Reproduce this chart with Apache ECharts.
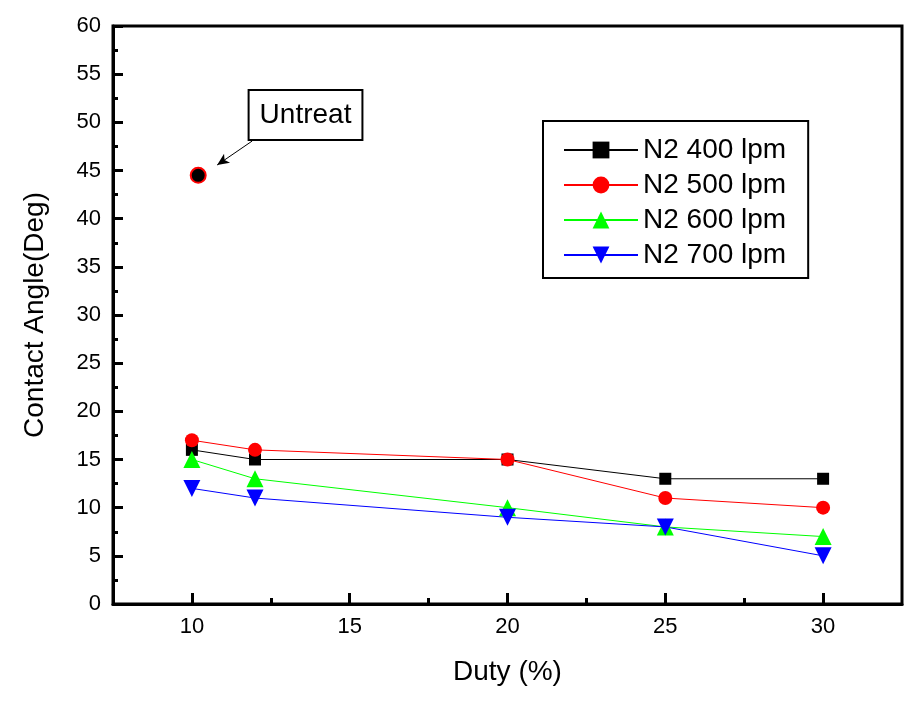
<!DOCTYPE html>
<html>
<head>
<meta charset="utf-8">
<script src="https://cdn.jsdelivr.net/npm/echarts@6/dist/echarts.min.js"></script>
<style>html,body{margin:0;padding:0;background:#fff;}#c{width:924px;height:704px;}</style>
</head>
<body>
<div id="c"></div>
<script>
var duty = [10, 12, 20, 25, 30];
var n2_400 = [16, 15, 15, 13, 13];
var n2_500 = [17, 16, 15, 11, 10];
var n2_600 = [15, 13, 10, 8, 7];
var n2_700 = [12, 11, 9, 8, 5];
var untreatX = [10.2];
var untreatY = [44.5];
var xMajorTicks = [10, 15, 20, 25, 30];
var xMinorTicks = [12.5, 17.5, 22.5, 27.5];
var seriesNames = ['N2 400 lpm', 'N2 500 lpm', 'N2 600 lpm', 'N2 700 lpm'];

function pairs(xs, ys) { return xs.map(function (x, i) { return [x, ys[i]]; }); }

var FONT = 'Liberation Sans, Arial, sans-serif';
var downTri = 'path://M0,0 L10,0 L5,9 Z';

function lineSeries(name, ys, color, symbol, size) {
  return {
    name: name, type: 'line', xAxisIndex: 0, yAxisIndex: 0,
    data: pairs(duty, ys),
    symbol: symbol, symbolSize: size,
    itemStyle: { color: color, opacity: 1 },
    lineStyle: { color: color, width: 1 },
    emphasis: { disabled: true },
    animation: false, z: 3
  };
}

var chart = echarts.init(document.getElementById('c'), null, { renderer: 'canvas' });
chart.setOption({
  backgroundColor: '#fff',
  animation: false,
  textStyle: { fontFamily: FONT },
  grid: { left: 113, right: 22, top: 26, bottom: 100, show: true, borderColor: '#000', borderWidth: 3, backgroundColor: 'transparent' },
  legend: {
    orient: 'vertical', left: 543, top: 121,
    data: seriesNames,
    itemWidth: 74, itemHeight: 21, itemGap: 5,
    padding: [14, 22, 8, 20],
    borderColor: '#000', borderWidth: 2,
    textStyle: { fontSize: 28, color: '#000', fontFamily: FONT, lineHeight: 30 }
  },
  xAxis: [{
    type: 'value', min: 7.5, max: 32.5,
    name: 'Duty (%)', nameLocation: 'middle', nameGap: 54,
    nameTextStyle: { fontSize: 28, color: '#000', fontFamily: FONT },
    axisLine: { show: true, onZero: false, lineStyle: { color: '#000', width: 3 } },
    axisTick: { show: true, inside: true, length: 11, lineStyle: { color: '#000', width: 3 }, customValues: xMajorTicks },
    axisLabel: { fontSize: 22, color: '#000', margin: 12, fontFamily: FONT, customValues: xMajorTicks },
    splitLine: { show: false }
  }, {
    type: 'value', min: 7.5, max: 32.5, position: 'bottom',
    axisLine: { show: false },
    axisTick: { show: true, inside: true, length: 6, lineStyle: { color: '#000', width: 3 }, customValues: xMinorTicks },
    axisLabel: { show: false },
    splitLine: { show: false }
  }],
  yAxis: {
    type: 'value', min: 0, max: 60, interval: 5,
    name: 'Contact Angle(Deg)', nameLocation: 'middle', nameGap: 64,
    nameTextStyle: { fontSize: 28, color: '#000', fontFamily: FONT },
    axisLine: { show: true, onZero: false, lineStyle: { color: '#000', width: 3 } },
    axisTick: { show: true, inside: true, length: 10, lineStyle: { color: '#000', width: 3 } },
    minorTick: { show: true, splitNumber: 2, length: 5, lineStyle: { color: '#000', width: 3 } },
    axisLabel: { fontSize: 22, color: '#000', margin: 12, fontFamily: FONT },
    splitLine: { show: false }
  },
  series: [
    lineSeries(seriesNames[0], n2_400, '#000000', 'rect', 12),
    lineSeries(seriesNames[1], n2_500, '#ff0000', 'circle', 14),
    lineSeries(seriesNames[2], n2_600, '#00ff00', 'triangle', 17),
    lineSeries(seriesNames[3], n2_700, '#0000ff', downTri, 17),
    {
      name: 'Untreat', type: 'scatter', xAxisIndex: 0, yAxisIndex: 0,
      data: pairs(untreatX, untreatY),
      symbol: 'circle', symbolSize: 15,
      itemStyle: { color: '#000', borderColor: '#ff0000', borderWidth: 2, opacity: 1 },
      emphasis: { disabled: true },
      z: 4,
      markPoint: {
        symbol: 'rect', symbolSize: 1, itemStyle: { color: 'transparent' },
        silent: true,
        label: {
          show: true, position: 'inside', formatter: 'Untreat',
          fontSize: 28, color: '#000', fontFamily: FONT, lineHeight: 32,
          backgroundColor: '#fff', borderColor: '#000', borderWidth: 2,
          padding: [16, 10, 0, 10]
        },
        data: [{ coord: [13.6, 50.76] }]
      },
      markLine: {
        silent: true, symbol: ['none', 'arrow'], symbolSize: [8, 12],
        label: { show: false },
        lineStyle: { color: '#000', width: 1, type: 'solid' },
        data: [[{ coord: [11.91, 48.06] }, { coord: [10.8, 45.57] }]]
      }
    }
  ]
});
</script>
</body>
</html>
